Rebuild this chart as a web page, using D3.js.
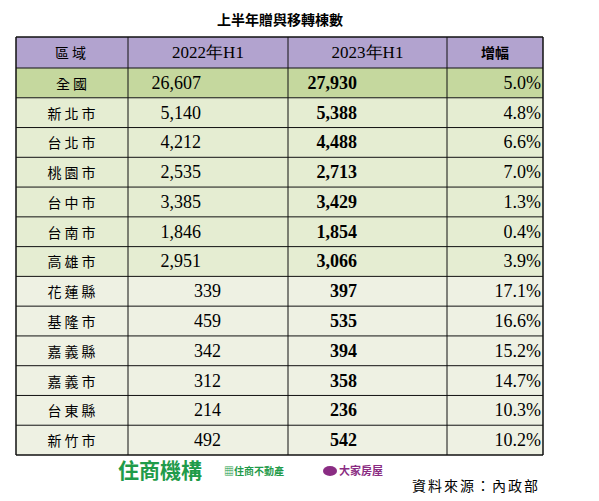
<!doctype html>
<html>
<head>
<meta charset="utf-8">
<script src="https://cdn.jsdelivr.net/npm/d3@7"></script>
<style>body{margin:0;background:#fff;}</style>
</head>
<body>
<script>
var regions = ["全國","新北市","台北市","桃園市","台中市","台南市","高雄市","花蓮縣","基隆市","嘉義縣","嘉義市","台東縣","新竹市"];
var v2022 = [26607,5140,4212,2535,3385,1846,2951,339,459,342,312,214,492];
var v2023 = [27930,5388,4488,2713,3429,1854,3066,397,535,394,358,236,542];
var growth = [5.0,4.8,6.6,7.0,1.3,0.4,3.9,17.1,16.6,15.2,14.7,10.3,10.2];
var headers = ["區域","2022年H1","2023年H1","增幅"];

var W = 599, H = 501;
var svg = d3.select("body").append("svg").attr("width", W).attr("height", H);
var cjk = "'Noto Sans CJK TC', sans-serif";
var num = "'Liberation Serif', serif";

svg.append("text").attr("x", 280).attr("y", 25).attr("text-anchor", "middle")
  .attr("font-family", cjk).attr("font-weight", "bold").attr("font-size", 14).text("上半年贈與移轉棟數");

var colX = [16, 128, 288, 447, 543];
var tableTop = 37, headH = 31;
var y = d3.scaleBand().domain(d3.range(regions.length)).range([tableTop + headH, 455]);

// header
svg.append("rect").attr("x", 16).attr("y", tableTop).attr("width", 527).attr("height", headH).attr("fill", "#b2a3cf");
headers.forEach(function(h, i) {
  svg.append("text").attr("x", (colX[i] + colX[i+1]) / 2).attr("y", tableTop + 21).attr("text-anchor", "middle")
    .attr("font-family", i == 1 || i == 2 ? num : cjk).attr("font-size", i == 1 || i == 2 ? 17 : 14)
    .attr("font-weight", i == 3 ? "bold" : "normal").attr("letter-spacing", i == 0 ? 3 : 0).text(h);
});

var fmt = d3.format(",");
var rows = svg.selectAll("g.row").data(regions).enter().append("g").attr("class", "row")
  .attr("transform", function(d, i) { return "translate(0," + y(i) + ")"; });
rows.append("rect").attr("x", 16).attr("width", 527).attr("height", y.bandwidth())
  .attr("fill", function(d, i) { return i == 0 ? "#c5d89e" : (i < 7 ? "#e5edd2" : "#eef1e3"); });
var ty = y.bandwidth() / 2 + 6;
rows.append("text").attr("x", 73).attr("y", ty).attr("text-anchor", "middle")
  .attr("font-family", cjk).attr("font-size", 14).attr("letter-spacing", 3).text(function(d) { return d; });
rows.append("text").attr("x", function(d, i) { return i < 7 ? 201 : 221; }).attr("y", ty).attr("text-anchor", "end")
  .attr("font-family", num).attr("font-size", 18).text(function(d, i) { return fmt(v2022[i]); });
rows.append("text").attr("x", 357).attr("y", ty).attr("text-anchor", "end")
  .attr("font-family", num).attr("font-weight", "bold").attr("font-size", 18).text(function(d, i) { return fmt(v2023[i]); });
rows.append("text").attr("x", 541).attr("y", ty).attr("text-anchor", "end")
  .attr("font-family", num).attr("font-size", 18).text(function(d, i) { return growth[i].toFixed(1) + "%"; });

// grid
var g = svg.append("g").attr("stroke", "#111").attr("fill", "none");
var lines = [tableTop].concat(d3.range(regions.length + 1).map(function(i) { return tableTop + headH + i * y.step(); }));
lines.forEach(function(ly, i) {
  g.append("line").attr("x1", 16).attr("x2", 543).attr("y1", ly).attr("y2", ly)
    .attr("stroke-width", i == 0 || i == lines.length - 1 ? 1.5 : 1);
});
colX.forEach(function(cx, i) {
  g.append("line").attr("x1", cx).attr("x2", cx).attr("y1", tableTop).attr("y2", 455)
    .attr("stroke-width", i == 0 || i == 4 ? 1.5 : 1);
});

// footer
svg.append("text").attr("x", 118).attr("y", 478).attr("font-family", cjk).attr("font-weight", "bold")
  .attr("font-size", 21).attr("fill", "#1f9b4a").text("住商機構");
svg.append("text").attr("x", 224).attr("y", 475).attr("font-family", cjk).attr("font-weight", "bold")
  .attr("font-size", 10).attr("fill", "#1f9b4a").text("▦住商不動產");
svg.append("ellipse").attr("cx", 330).attr("cy", 471).attr("rx", 7).attr("ry", 5).attr("fill", "#8a2c83");
svg.append("text").attr("x", 339).attr("y", 475).attr("font-family", cjk).attr("font-weight", "bold")
  .attr("font-size", 11).attr("fill", "#8a2c83").text("大家房屋");
svg.append("text").attr("x", 540).attr("y", 491).attr("text-anchor", "end").attr("font-family", cjk)
  .attr("font-size", 14).attr("letter-spacing", 2).text("資料來源：內政部");
</script>
</body>
</html>
